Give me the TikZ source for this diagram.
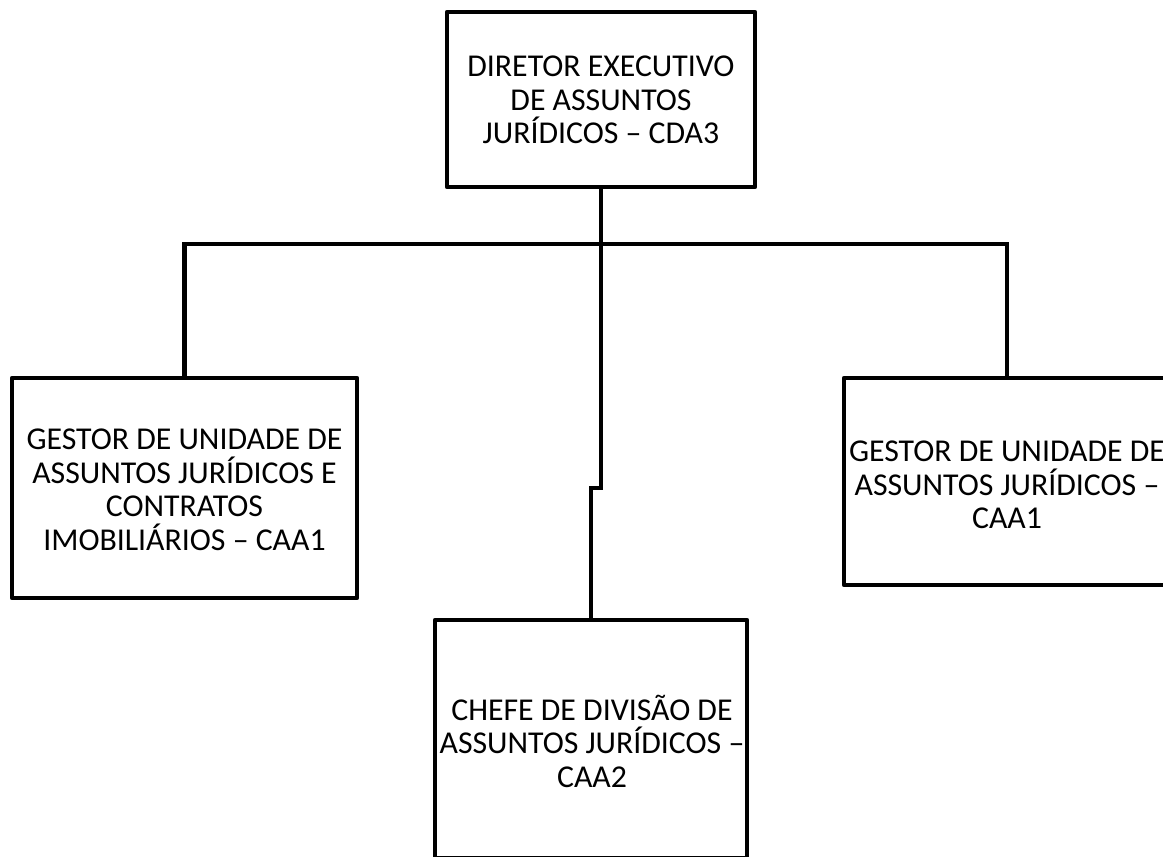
\documentclass[tikz,border=0pt]{standalone}
\usepackage{fontspec}
\setmainfont{Carlito}
\begin{document}
\begin{tikzpicture}[x=1pt,y=-1pt,
  orgbox/.style={draw=black, line width=4.8pt, rectangle, inner sep=0pt, line join=round},
  orgtext/.style={align=center, inner sep=0pt, font=\fontsize{31.8}{33.5}\selectfont},
  link/.style={draw=black, line width=4.8pt, line join=miter}]
\useasboundingbox (0,0) rectangle (1163,857);
\clip (0,0) rectangle (1163,857);
\fill[white] (0,0) rectangle (1163,857);
% boxes
\node[orgbox, minimum width=308pt, minimum height=175pt] (top) at (601,99.5) {};
\node[orgbox, minimum width=345pt, minimum height=220pt] (left) at (184.5,488) {};
\node[orgbox, minimum width=326pt, minimum height=207pt] (right) at (1007,481.5) {};
\node[orgbox, minimum width=312pt, minimum height=238pt] (bottom) at (591,739) {};
% texts
\node[orgtext] (toptxt) at (601,100) {DIRETOR EXECUTIVO\\DE ASSUNTOS\\JURÍDICOS – CDA3};
\node[orgtext] (lefttxt) at (184.5,490) {GESTOR DE UNIDADE DE\\ASSUNTOS JURÍDICOS E\\CONTRATOS\\IMOBILIÁRIOS – CAA1};
\node[orgtext] (righttxt) at (1007,485) {GESTOR DE UNIDADE DE\\ASSUNTOS JURÍDICOS –\\CAA1};
\node[orgtext] (bottomtxt) at (592,741) {CHEFE DE DIVISÃO DE\\ASSUNTOS JURÍDICOS –\\CAA2};
% connectors
\coordinate (bus) at (0,244);
\coordinate (jog) at (0,488);
\draw[link] (left.north) -- (left.north |- bus) -- (right.north |- bus) -- (right.north);
\draw[link] (top.south) -- (top.south |- jog) -- (bottom.north |- jog) -- (bottom.north);
\end{tikzpicture}
\end{document}
